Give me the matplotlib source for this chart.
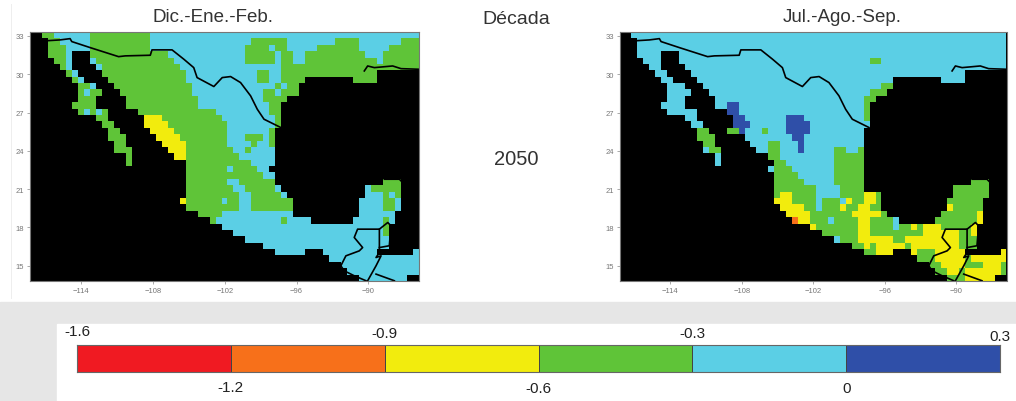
import re
import numpy as np
import matplotlib
matplotlib.use("Agg")
import matplotlib.pyplot as plt
from matplotlib.colors import ListedColormap, BoundaryNorm
from matplotlib.patches import Rectangle

plt.rcParams['font.family'] = ['Liberation Sans', 'DejaVu Sans']

W, H = 1016, 402

LEVELS = [-1.6, -1.2, -0.9, -0.6, -0.3, 0, 0.3]
LEVEL_COLORS = ['#f01a22', '#f7701a', '#f2ec0d', '#5fc438', '#5bcfe5', '#2f4fa8']
TOP_LABELS = ['-1.6', '-0.9', '-0.3', '0.3']
BOTTOM_LABELS = ['-1.2', '-0.6', '0']
LON_TICKS = [-114, -108, -102, -96, -90]
LAT_TICKS = [15, 18, 21, 24, 27, 30, 33]

# one value per class of the legend, k is the black sea mask
CLASS_VALUE = {'r': -1.4, 'o': -1.05, 'y': -0.75, 'g': -0.45, 'c': -0.15, 'b': 0.15, 'k': np.nan}

LON0, DLON = -118.27, 0.5
LAT0, DLAT = 33.31, -0.5
NCOLS = 65

# each row: "start+class", class holds until the next start
DJF_ROWS = [
    "0k 2g 4c 10g 20c",
    "0k 3g 5c 10g 20c 37g 43c 51g 55c 62g",
    "0k 3g 6c 10g 20c 36g 40c 41g 43c 48g 55c 60g",
    "0k 3g 6c 7k 10g 23c 36g 41c 42g 44c 46g 56c 59g",
    "0k 4g 6c 7k 10c 11g 24c 36g 41c 42g 44c 46g 58c 59g",
    "0k 5g 6c 7k 11c 12g 25c 42g 60g",
    "0k 6g 7c 8k 12g 26c 38g 40c 42g 58k",
    "0k 7g 8c 9k 13g 26c 38g 40c 42g 46k 54g 58k",
    "0k 8g 10c 11k 14g 27c 41g 42c 43g 45k",
    "0k 8g 9c 10g 12k 15g 27c 39g 41c 42g 45k",
    "0k 8g 11k 16g 28c 39g 43k",
    "0k 7g 11k 16g 28c 40g 42k",
    "0k 8g 9c 10g 11c 12g 13k 18g 31c 40g 42k",
    "0k 11g 13k 19y 22g 32c 41g 42k",
    "0k 12g 14k 19y 23g 33c 41g 42k",
    "0k 13g 15k 20y 24g 33c 40g 41k",
    "0k 13g 16k 21y 25g 33c 36g 39c 40g 41k",
    "0k 14g 16k 22y 26g 33c 37g 38c 40g 41k",
    "0k 14g 17k 23y 26g 34c 36g 37c 41k",
    "0k 16g 17k 24y 26g 35c 41k",
    "0k 16g 17k 26g 37c 41k",
    "0k 26g 33c 34g 38c 40k",
    "0k 26g 39c 41k",
    "0k 26g 33c 35g 41k 59g 62k",
    "0k 26g 34c 36g 41c 42k 56c 57g 62k",
    "0k 26g 35c 37g 42c 43k 56c 59g 60c 61g 62k",
    "0k 25y 26g 32c 33g 35c 37g 44k 55c 59g 61c 62k",
    "0k 26g 35c 37g 44k 55c 59g 61c 62k",
    "0k 28g 32c 44k 55c 61k",
    "0k 30g 31c 42g 43c 47k 54c 59g 60c 61k",
    "0k 32c 59g 60k",
    "0k 34c 59g 60k",
    "0k 36c 60k",
    "0k 39c 60k",
    "0k 41c 46k 49c 58k 64c",
    "0k 50c",
    "0k 52c",
    "0k 53c",
    "0k 55c 63k",
]

JAS_ROWS = [
    "0k 2c",
    "0k 3c",
    "0k 3c",
    "0k 3c 7k 10c",
    "0k 4c 7k 10c 42g 44c",
    "0k 5c 7k 11c",
    "0k 6c 8k 12c 58k",
    "0k 7c 9k 13c 46k 54c 58k",
    "0k 8c 11k 14c 44g 46k",
    "0k 8c 12k 15c 42g 45k",
    "0k 8c 11k 16c 41g 43k",
    "0k 7c 11k 16c 18b 20c 41g 42k",
    "0k 8c 13k 18b 20c 41g 42k",
    "0k 11c 13k 19b 21c 28b 31c 41g 42k",
    "0k 12c 14k 19b 22c 28b 32c 42k",
    "0k 13g 15k 18g 20b 21c 24g 25c 28b 32c 41k",
    "0k 13g 16k 21c 29b 31c 41k",
    "0k 14g 16k 22c 25g 27c 30b 31c 41k",
    "0k 14c 15g 17k 23c 25g 27c 30b 31c 36g 38c 40g 41k",
    "0k 16c 17k 25g 27c 36g 41k",
    "0k 16c 17k 26g 28c 36g 41k",
    "0k 25c 26g 29c 36g 41k",
    "0k 26g 30c 36g 41k",
    "0k 26g 31c 36g 41k 59g 62k",
    "0k 26g 33c 37g 41k 56g 62k",
    "0k 26g 27y 29g 33c 37g 41y 43g 44k 56g 62k",
    "0k 26y 29g 33c 34g 37c 38y 39g 41y 43g 44k 55g 61k",
    "0k 27y 31g 33c 34g 37y 38g 40y 42g 44k 55y 56g 61k",
    "0k 28y 32g 39y 44g 45k 54g 60y 61k",
    "0k 29o 30y 32g 35c 36g 40y 42g 46c 47k 53g 60y 61k",
    "0k 32y 33g 40y 42g 46c 47g 49y 50g 51y 54g 59y 60k",
    "0k 34g 40y 42g 51y 57g 59y 60k",
    "0k 36c 37g 40y 46g 48y 57g 60k",
    "0k 39g 41y 42g 43y 48g 49y 57g 60k",
    "0k 41g 43y 46k 49y 50g 53y 58k 64y",
    "0k 50g 53y 58g 59y",
    "0k 52g 54y 58g 61y 64g",
    "0k 53g 55y 57g 58y 64g",
    "0k 55g 58y 63k",
]

# political lines, lon / lat
US_LON = [-117.16, -115.76, -114.92, -114.78, -113.25, -110.87, -110.31, -108.22, -108.08, -106.40, -105.42,
          -104.59, -104.31, -102.91, -102.21, -101.51, -100.68, -99.84, -99.28, -98.72, -97.32]
US_LAT = [32.61, 32.69, 32.79, 32.56, 32.09, 31.38, 31.44, 31.49, 31.91, 31.91, 31.18,
          30.52, 29.74, 29.04, 29.74, 29.82, 29.35, 28.31, 27.26, 26.48, 25.83]
GUATE_LON = [-92.30, -91.88, -90.76, -90.48, -91.18, -90.90, -89.08, -89.08, -89.36, -88.94, -89.36, -90.06]
GUATE_LAT = [15.0, 15.78, 16.17, 16.43, 17.22, 17.87, 17.87, 16.04, 15.65, 15.78, 15.0, 13.83]
GUATE_S_LON = [-92.30, -92.02, -91.18, -90.20]
GUATE_S_LAT = [15.0, 14.61, 14.22, 13.83]
HOND_LON = [-89.36, -87.83]
HOND_LAT = [14.35, 13.83]
BELIZE_LON = [-89.08, -88.38, -88.11, -88.25, -89.08]
BELIZE_LAT = [17.87, 18.39, 18.13, 16.57, 16.43]
TEXAS_LON = [-90.34, -90.06, -89.5, -87.97, -87.27, -85.73]
TEXAS_LAT = [30.26, 30.65, 30.52, 30.65, 30.44, 30.39]
YUC_LON = [-88.66, -87.41, -87.13]
YUC_LAT = [21.78, 21.78, 21.52]
LINES = [(US_LON, US_LAT), (GUATE_LON, GUATE_LAT), (GUATE_S_LON, GUATE_S_LAT), (HOND_LON, HOND_LAT),
         (BELIZE_LON, BELIZE_LAT), (TEXAS_LON, TEXAS_LAT), (YUC_LON, YUC_LAT)]


def decode(rows):
    grid = np.full((len(rows), NCOLS), np.nan)
    for i, row in enumerate(rows):
        tokens = re.findall(r'(\d+)([a-z])', row)
        for n, (start, cls) in enumerate(tokens):
            end = int(tokens[n + 1][0]) if n + 1 < len(tokens) else NCOLS
            grid[i, int(start):end] = CLASS_VALUE[cls]
    return np.ma.masked_invalid(grid)


def px_axes(fig, x0, y0, x1, y1):
    return fig.add_axes([x0 / W, 1 - y1 / H, (x1 - x0) / W, (y1 - y0) / H])


def fig_text(fig, x, y, s, **kw):
    fig.text(x / W, 1 - y / H, s, ha='center', va='center', **kw)


def draw_map(fig, box, rows, title, title_x):
    ax = px_axes(fig, *box)
    ax.set_facecolor('black')
    lon = LON0 + DLON * np.arange(NCOLS + 1)
    lat = LAT0 + DLAT * np.arange(len(rows) + 1)
    ax.pcolormesh(lon, lat, decode(rows), cmap=cmap, norm=norm)
    for xs, ys in LINES:
        ax.plot(xs, ys, color='black', linewidth=1.2)
    ax.set_xlim(lon[0], lon[-1])
    ax.set_ylim(lat[-1], lat[0])
    ax.set_xticks(LON_TICKS)
    ax.set_yticks(LAT_TICKS)
    ax.tick_params(labelsize=5.5, labelcolor='#777777', color='#888888', length=2, width=0.5, pad=2)
    for side in ax.spines.values():
        side.set_color('#777777')
        side.set_linewidth(0.8)
    fig_text(fig, title_x, 18, title, fontsize=13.5, color='#333333')


cmap = ListedColormap(LEVEL_COLORS)
norm = BoundaryNorm(LEVELS, cmap.N)

fig = plt.figure(figsize=(W / 100, H / 100), dpi=100, facecolor='white')

# grey page behind the lower part, white box for the scale
fig.add_artist(Rectangle((0, 0), 1, 1 - 303 / H, transform=fig.transFigure, color='#e6e6e6', zorder=-2))
fig.add_artist(Rectangle((57 / W, 0), 1 - 57 / W, 1 - 325 / H, transform=fig.transFigure, color='white', zorder=-1))
fig.add_artist(Rectangle((11 / W, 1 - 300 / H), 0.5 / W, 295 / H, transform=fig.transFigure, color='#eeeeee',
                         linewidth=0, zorder=-1))

draw_map(fig, (30, 33, 419, 282), DJF_ROWS, 'Dic.-Ene.-Feb.', 213)
draw_map(fig, (619.5, 33, 1006.5, 282), JAS_ROWS, 'Jul.-Ago.-Sep.', 842)

fig_text(fig, 516, 19, 'Década', fontsize=14, color='#333333')
fig_text(fig, 516, 160, '2050', fontsize=14.5, color='#333333')

# scale bar, classes evenly spaced
cax = px_axes(fig, 77, 346, 1000, 373)
pos = np.arange(len(LEVELS))
values = np.array([(a + b) / 2 for a, b in zip(LEVELS[:-1], LEVELS[1:])])
cax.pcolormesh(pos, [0, 1], values[np.newaxis, :], cmap=cmap, norm=norm, edgecolors='#444444', linewidth=0.5)
cax.set_xticks([])
cax.set_yticks([])
for side in cax.spines.values():
    side.set_color('#666666')
    side.set_linewidth(0.8)
for p, s, y in zip(pos[::2], TOP_LABELS, [332, 334, 334, 337]):
    cax.annotate(s, (p, 1), xycoords='data', xytext=(0, (346 - y) * 0.72), textcoords='offset points',
                 ha='center', va='center', fontsize=11, color='#222222', annotation_clip=False)
for p, s, y in zip(pos[1::2], BOTTOM_LABELS, [388, 389, 389]):
    cax.annotate(s, (p, 0), xycoords='data', xytext=(0, (373 - y) * 0.72), textcoords='offset points',
                 ha='center', va='center', fontsize=11, color='#222222', annotation_clip=False)

fig.savefig('out.png', dpi=100)
